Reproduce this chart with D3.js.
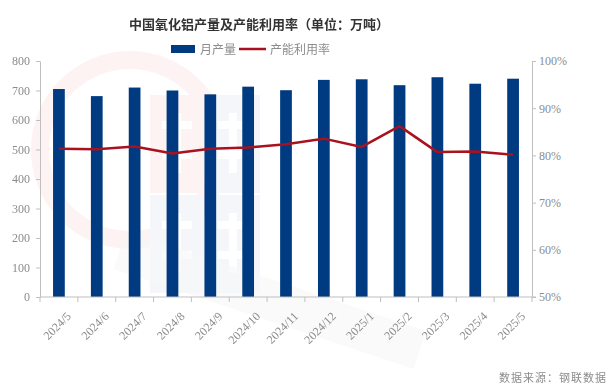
<!DOCTYPE html>
<html>
<head>
<meta charset="utf-8">
<script src="https://cdn.jsdelivr.net/npm/d3@7"></script>
<style>
  body { margin: 0; background: #fff; }
  svg { display: block; }
  .tick text { font-family: "Liberation Serif", "DejaVu Serif", serif; font-size: 12px; fill: #8c8c8c; }
</style>
</head>
<body>
<svg id="svg" width="616" height="391"></svg>
<script>
'use strict';

const months = ['2024/5', '2024/6', '2024/7', '2024/8', '2024/9', '2024/10', '2024/11',
  '2024/12', '2025/1', '2025/2', '2025/3', '2025/4', '2025/5'];
// 月产量 (万吨)
const output = [705, 681, 710, 700, 687, 713, 701, 736, 738, 718, 745, 723, 740];
// 产能利用率 (%)
const utilization = [81.4, 81.3, 81.9, 80.4, 81.4, 81.65, 82.35, 83.55, 81.8, 86.2, 80.7, 80.85, 80.15];
const leftTicks = [0, 100, 200, 300, 400, 500, 600, 700, 800];
const rightTicks = [50, 60, 70, 80, 90, 100];

const BAR_COLOR = '#003A80';
const LINE_COLOR = '#A8121F';
const AXIS_COLOR = '#bfbfbf';

const margin = { left: 40, right: 84, top: 61, bottom: 94 };
const W = 616, H = 391;

const svg = d3.select('#svg');

// Faint watermark
const wm = svg.append('g').attr('opacity', 0.05);
wm.append('circle').attr('cx', 130).attr('cy', 150).attr('r', 90)
  .attr('fill', 'none').attr('stroke', '#d01010').attr('stroke-width', 18);
[['我', 150, 95, '#d01010'], ['的', 206, 95, '#1a4c9c'], ['钢', 150, 195, '#1a4c9c'], ['铁', 206, 195, '#1a4c9c']]
  .forEach(([t, x, y, c]) => {
    wm.append('rect').attr('x', x).attr('y', y).attr('width', 54).attr('height', 98).attr('fill', c);
    wm.append('path')
      .attr('d', `M${x + 12},${y + 30}h30M${x + 27},${y + 18}v60M${x + 12},${y + 60}h30`)
      .attr('stroke', '#fff').attr('stroke-width', 8);
  });
wm.append('path')
  .attr('d', 'M120,250 L420,350')
  .attr('stroke', '#555').attr('stroke-width', 40).attr('opacity', 0.6);

const x = d3.scaleBand().domain(months).range([margin.left, W - margin.right]);
const yL = d3.scaleLinear().domain([0, 800]).range([H - margin.bottom, margin.top]);
const yR = d3.scaleLinear().domain([50, 100]).range([H - margin.bottom, margin.top]);

// Title
svg.append('text')
  .attr('x', 259).attr('y', 29).attr('text-anchor', 'middle')
  .attr('font-family', 'Noto Sans CJK SC').attr('font-size', 13).attr('font-weight', 'bold')
  .attr('fill', '#333').text('中国氧化铝产量及产能利用率（单位：万吨）');

// Legend
const lg = svg.append('g').attr('font-family', 'Noto Sans CJK SC').attr('font-size', 12).attr('fill', '#8c8c8c');
lg.append('rect').attr('x', 171).attr('y', 45).attr('width', 24).attr('height', 8).attr('fill', BAR_COLOR);
lg.append('text').attr('x', 200).attr('y', 54).text('月产量');
lg.append('line').attr('x1', 239).attr('x2', 266).attr('y1', 49).attr('y2', 49)
  .attr('stroke', LINE_COLOR).attr('stroke-width', 2.5);
lg.append('text').attr('x', 270).attr('y', 54).text('产能利用率');

// Axes
function styleAxis(g) {
  g.selectAll('.domain').attr('stroke', AXIS_COLOR);
  g.selectAll('.tick line').attr('stroke', AXIS_COLOR);
}

svg.append('g')
  .attr('transform', `translate(${margin.left},0)`)
  .call(d3.axisLeft(yL).tickValues(leftTicks).tickSize(4).tickSizeOuter(0).tickPadding(6))
  .call(styleAxis);

svg.append('g')
  .attr('transform', `translate(${W - margin.right},0)`)
  .call(d3.axisRight(yR).tickValues(rightTicks).tickFormat(d => d + '%').tickSize(4).tickSizeOuter(0).tickPadding(3))
  .call(styleAxis);

// Bars
svg.append('g').selectAll('rect')
  .data(months)
  .join('rect')
  .attr('x', (d, i) => x(d) + x.bandwidth() * 0.345)
  .attr('width', x.bandwidth() * 0.31)
  .attr('y', (d, i) => yL(output[i]))
  .attr('height', (d, i) => yL(0) - yL(output[i]))
  .attr('fill', BAR_COLOR);

// X axis with ticks at band boundaries
const xAxisG = svg.append('g').attr('transform', `translate(0,${H - margin.bottom})`);
xAxisG.append('line').attr('x1', margin.left).attr('x2', W - margin.right + 4)
  .attr('stroke', AXIS_COLOR);
xAxisG.selectAll('line.tk')
  .data(months.concat(['end']))
  .join('line')
  .attr('class', 'tk')
  .attr('x1', (d, i) => margin.left + i * x.bandwidth())
  .attr('x2', (d, i) => margin.left + i * x.bandwidth())
  .attr('y1', 0).attr('y2', 5)
  .attr('stroke', AXIS_COLOR);
xAxisG.selectAll('text')
  .data(months)
  .join('text')
  .attr('transform', d => `translate(${x(d) + x.bandwidth() / 2 + 7},${14}) rotate(-45)`)
  .attr('text-anchor', 'end')
  .attr('dy', '0.7em')
  .attr('font-family', '"Liberation Serif", serif').attr('font-size', 12).attr('fill', '#8c8c8c')
  .text(d => d);

// Utilization line
const line = d3.line()
  .x((d, i) => x(months[i]) + x.bandwidth() / 2)
  .y(d => yR(d));
svg.append('path')
  .datum(utilization)
  .attr('d', line)
  .attr('fill', 'none')
  .attr('stroke', LINE_COLOR)
  .attr('stroke-width', 2.5)
  .attr('stroke-linejoin', 'round');

// Source
svg.append('text')
  .attr('x', 607).attr('y', 382).attr('text-anchor', 'end')
  .attr('font-family', 'Noto Sans CJK SC').attr('font-size', 11).attr('fill', '#8c8c8c')
  .attr('letter-spacing', 1)
  .text('数据来源：钢联数据');
</script>
</body>
</html>
